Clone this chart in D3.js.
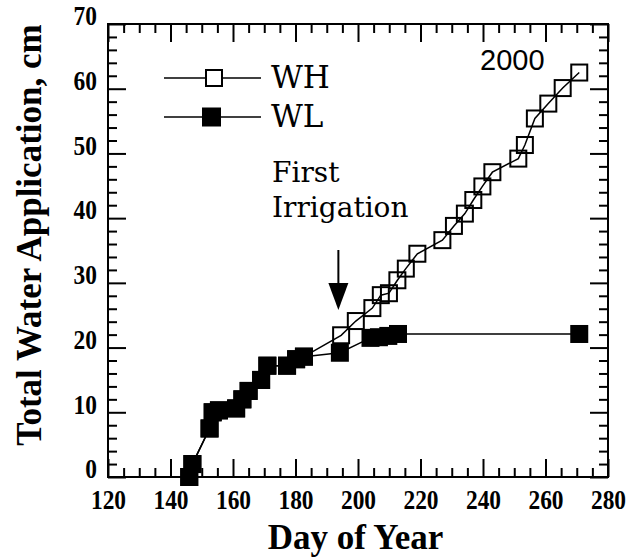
<!DOCTYPE html>
<html>
<head>
<meta charset="utf-8">
<script src="https://cdn.jsdelivr.net/npm/d3@7"></script>
<style>
  html, body { margin: 0; padding: 0; background: #fff; }
  svg { display: block; }
</style>
</head>
<body>
<svg id="chart" width="643" height="557"></svg>
<script>
// ---- data ----
const whDays = [146, 147, 152.5, 153.5, 155.5, 161, 163, 165, 169, 171, 177.3, 180.2, 182.7,
                194.6, 199.3, 204.6, 207.3, 209.9, 212.6, 215.3, 219, 227, 230.7, 234.2, 236.9,
                239.8, 243, 251.3, 253.4, 256.6, 260.9, 265.5, 270.8];
const whValues = [0, 2, 7.5, 10, 10.3, 10.6, 12, 13.3, 15, 17.2, 17.2, 18.2, 18.6,
                  21.9, 24.1, 26.1, 28.1, 28.4, 30.4, 32.2, 34.5, 36.6, 38.8, 40.7, 42.8,
                  44.9, 47.1, 49.2, 51.3, 55.4, 57.7, 60.1, 62.5];
const wlDays = [146, 147, 152.5, 153.5, 155.5, 161, 163, 165, 169, 171, 177.3, 180.2, 182.7,
                194.2, 204, 206.7, 209.7, 212.8, 270.8];
const wlValues = [0, 2, 7.5, 10, 10.3, 10.6, 12, 13.3, 15, 17.2, 17.2, 18.2, 18.6,
                  19.2, 21.5, 21.6, 21.8, 22.1, 22.1];
const xMajor = [120, 140, 160, 180, 200, 220, 240, 260, 280];
const yMajor = [0, 10, 20, 30, 40, 50, 60, 70];
const seriesNames = ["WH", "WL"];
const yearLabel = "2000";
const annotation = ["First", "Irrigation"];
const annotationDay = 195;

// ---- layout ----
const L = 108, R = 608, T = 24, B = 477;
const svg = d3.select("#chart");
const x = d3.scaleLinear().domain([120, 280]).range([L, R]);
const y = d3.scaleLinear().domain([0, 70]).range([B, T]);

const xMinor = d3.range(120, 281, 5).filter(v => v % 20 !== 0);
const yMinor = d3.range(0, 71, 2).filter(v => v % 10 !== 0);

function styleAxis(g) {
  g.select(".domain").remove();
  g.selectAll(".tick line").attr("stroke", "#000").attr("stroke-width", 2);
}
const labelFont = "'Liberation Serif', 'Times New Roman', serif";
function styleLabels(g) {
  g.selectAll(".tick text")
    .attr("font-family", labelFont)
    .attr("font-weight", "bold")
    .attr("font-size", 28)
    .attr("fill", "#000")
    .attr("lengthAdjust", "spacingAndGlyphs")
    .attr("textLength", function () { return this.textContent.length * 11.7; });
}

// bottom
svg.append("g").attr("transform", `translate(0,${B})`)
  .call(d3.axisBottom(x).tickValues(xMajor).tickSize(-18).tickPadding(12.5).tickFormat(d3.format("d")))
  .call(styleAxis).call(styleLabels);
svg.append("g").attr("transform", `translate(0,${B})`)
  .call(d3.axisBottom(x).tickValues(xMinor).tickSize(-9).tickFormat(""))
  .call(styleAxis);
// top
svg.append("g").attr("transform", `translate(0,${T})`)
  .call(d3.axisTop(x).tickValues(xMajor).tickSize(-18).tickFormat(""))
  .call(styleAxis);
svg.append("g").attr("transform", `translate(0,${T})`)
  .call(d3.axisTop(x).tickValues(xMinor).tickSize(-9).tickFormat(""))
  .call(styleAxis);
// left
const gl = svg.append("g").attr("transform", `translate(${L},0)`)
  .call(d3.axisLeft(y).tickValues(yMajor).tickSize(-18).tickPadding(11).tickFormat(d3.format("d")))
  .call(styleAxis).call(styleLabels);
gl.selectAll(".tick text").attr("dy", "0.03em");
svg.append("g").attr("transform", `translate(${L},0)`)
  .call(d3.axisLeft(y).tickValues(yMinor).tickSize(-9).tickFormat(""))
  .call(styleAxis);
// right
svg.append("g").attr("transform", `translate(${R},0)`)
  .call(d3.axisRight(y).tickValues(yMajor).tickSize(-18).tickFormat(""))
  .call(styleAxis);
svg.append("g").attr("transform", `translate(${R},0)`)
  .call(d3.axisRight(y).tickValues(yMinor).tickSize(-9).tickFormat(""))
  .call(styleAxis);

// frame
svg.append("rect").attr("x", L).attr("y", T).attr("width", R - L).attr("height", B - T)
  .attr("fill", "none").attr("stroke", "#000").attr("stroke-width", 2);

// ---- series ----
const wh = whDays.map((d, i) => [d, whValues[i]]);
const wl = wlDays.map((d, i) => [d, wlValues[i]]);
const line = d3.line().x(d => x(d[0])).y(d => y(d[1]));

svg.append("path").datum(wh).attr("d", line)
  .attr("fill", "none").attr("stroke", "#000").attr("stroke-width", 1.5);
svg.append("g").selectAll("rect").data(wh).join("rect")
  .attr("x", d => x(d[0]) - 8).attr("y", d => y(d[1]) - 8)
  .attr("width", 16).attr("height", 16)
  .attr("fill", "none").attr("stroke", "#000").attr("stroke-width", 2);

svg.append("path").datum(wl).attr("d", line)
  .attr("fill", "none").attr("stroke", "#000").attr("stroke-width", 1.5);
svg.append("g").selectAll("rect").data(wl).join("rect")
  .attr("x", d => x(d[0]) - 9).attr("y", d => y(d[1]) - 9)
  .attr("width", 18).attr("height", 18)
  .attr("fill", "#000");

// ---- legend ----
const serif = "'DejaVu Serif', serif";
const lg = svg.append("g");
const legRows = [{ name: seriesNames[0], y: 78, filled: false }, { name: seriesNames[1], y: 117, filled: true }];
legRows.forEach((r, i) => {
  lg.append("line").attr("x1", 164).attr("x2", 261).attr("y1", r.y).attr("y2", r.y)
    .attr("stroke", "#000").attr("stroke-width", 1.5);
  if (r.filled) {
    lg.append("rect").attr("x", 202).attr("y", r.y - 9.5).attr("width", 19).attr("height", 19).attr("fill", "#000");
  } else {
    lg.append("rect").attr("x", 206).attr("y", r.y - 8).attr("width", 16).attr("height", 16)
      .attr("fill", "#fff").attr("stroke", "#000").attr("stroke-width", 2);
  }
  lg.append("text").attr("x", 271).attr("y", r.y + 10).text(r.name)
    .attr("font-family", serif).attr("font-size", 31).attr("fill", "#000");
});

// year label
svg.append("text").attr("x", 480).attr("y", 70).text(yearLabel)
  .attr("font-family", "'Liberation Sans', Arial, sans-serif").attr("font-size", 29).attr("fill", "#000");

// annotation
annotation.forEach((t, i) => {
  svg.append("text").attr("x", 272).attr("y", 181.5 + i * 35).text(t)
    .attr("font-family", serif).attr("font-size", 28).attr("fill", "#000");
});
const ax = x(annotationDay) - 4;
svg.append("line").attr("x1", ax).attr("x2", ax).attr("y1", 250).attr("y2", 286)
  .attr("stroke", "#000").attr("stroke-width", 2);
svg.append("path").attr("d", `M${ax - 10},283 L${ax + 10},283 L${ax},310 Z`).attr("fill", "#000");

// axis titles
svg.append("text").attr("x", 355.5).attr("y", 549).attr("text-anchor", "middle")
  .text("Day of Year")
  .attr("font-family", labelFont).attr("font-weight", "bold").attr("font-size", 35).attr("fill", "#000");
svg.append("text").attr("transform", "translate(41,235) rotate(-90)").attr("text-anchor", "middle")
  .text("Total Water Application, cm")
  .attr("font-family", labelFont).attr("font-weight", "bold").attr("font-size", 35).attr("fill", "#000");
</script>
</body>
</html>
